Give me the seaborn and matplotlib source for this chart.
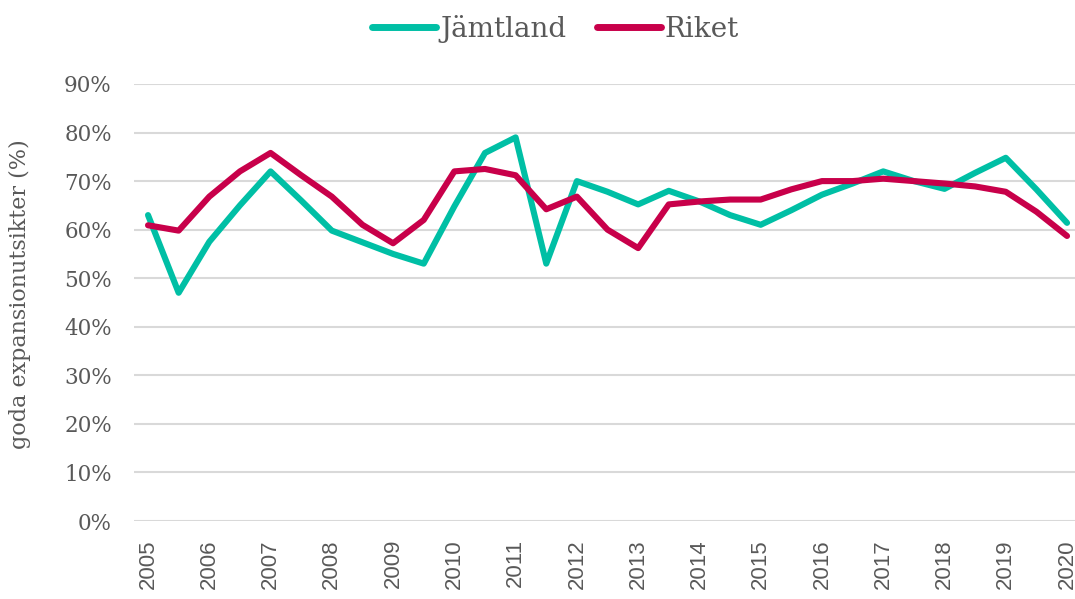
import numpy as np
import pandas as pd
import matplotlib
matplotlib.use("Agg")
import matplotlib.pyplot as plt
import seaborn as sns

# half-year measurements, 2005 .. 2020
periods = [2005 + 0.5 * i for i in range(31)]
jamtland = [63.0, 47.0, 57.5, 65.0, 72.0, 66.0, 59.8, 57.4, 55.0, 53.0,
            64.8, 75.8, 79.0, 53.0, 70.0, 67.8, 65.2, 68.0, 65.8, 63.0,
            61.0, 64.0, 67.2, 69.5, 72.0, 70.0, 68.4, 71.7, 74.8, 68.3, 61.4]
riket = [60.9, 59.8, 66.8, 72.0, 75.8, 71.2, 66.8, 61.0, 57.2, 62.0,
         72.0, 72.5, 71.2, 64.2, 66.8, 60.0, 56.2, 65.2, 65.8, 66.2,
         66.2, 68.3, 70.0, 70.0, 70.5, 70.0, 69.5, 68.9, 67.8, 63.7, 58.7]
series_names = ["Jämtland", "Riket"]
year_ticks = list(range(2005, 2021))
pct_ticks = list(range(0, 100, 10))

df = pd.DataFrame({"period": periods, "Jämtland": jamtland, "Riket": riket})
long = df.melt(id_vars="period", var_name="område", value_name="andel")

sns.set_style("white")
plt.rcParams['font.family'] = ['DejaVu Sans']

fig = plt.figure(figsize=(10.75, 5.99), dpi=100)
ax = fig.add_axes([0.1247, 0.1302, 0.8753, 0.7296])

palette = {"Jämtland": "#00BFA5", "Riket": "#C8004A"}
sns.lineplot(data=long, x="period", y="andel", hue="område", hue_order=series_names,
             palette=palette, linewidth=4.4, ax=ax, solid_capstyle="round",
             solid_joinstyle="round")

ax.set_ylim(0, 90)
ax.set_xlim(2005 - 0.228, 2020 + 0.13)
ax.set_yticks(pct_ticks)
ax.set_yticklabels([f"{p}%" for p in pct_ticks], family="DejaVu Serif",
                   fontsize=15.5, color="#595959")
ax.set_xticks(year_ticks)
ax.set_xticklabels([str(y) for y in year_ticks], rotation=90, fontsize=16,
                   color="#595959", family="Liberation Sans")
ax.tick_params(axis="both", length=0)
ax.tick_params(axis="y", pad=16)
ax.tick_params(axis="x", pad=13)
ax.grid(axis="y", color="#D9D9D9", linewidth=1.5)
ax.set_axisbelow(True)
for s in ax.spines.values():
    s.set_visible(False)

ax.set_xlabel("")
ax.set_ylabel("goda expansionutsikter (%)", fontsize=16, color="#595959",
              family="DejaVu Serif")
ax.yaxis.set_label_coords(-0.109, 0.52)

handles, labels = ax.get_legend_handles_labels()
leg = ax.legend(handles, labels, loc="upper center", bbox_to_anchor=(0.448, 1.215),
                ncol=2, frameon=False, prop={"family": "DejaVu Serif", "size": 20},
                handlelength=2.3, handletextpad=0.15, columnspacing=1.1)
for t in leg.get_texts():
    t.set_color("#595959")
for h in leg.get_lines():
    h.set_linewidth(5)
    h.set_solid_capstyle("round")

fig.savefig("out.png", dpi=100)
